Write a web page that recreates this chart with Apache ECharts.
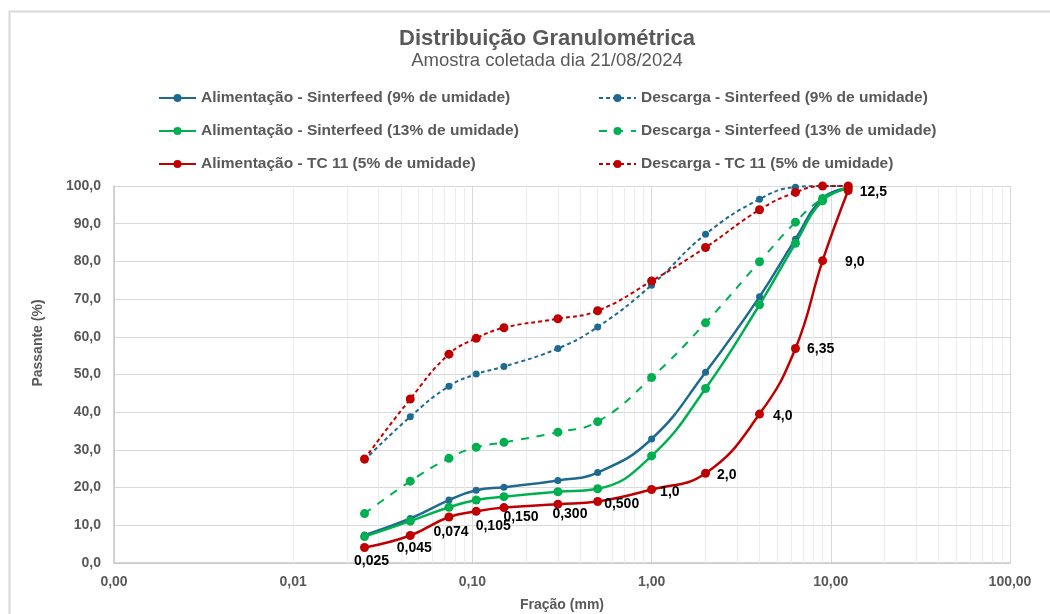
<!DOCTYPE html>
<html>
<head>
<meta charset="utf-8">
<script src="https://cdn.jsdelivr.net/npm/echarts@6/dist/echarts.min.js"></script>
<style>
  html, body { margin: 0; padding: 0; background: #ffffff; }
  #chart { width: 1050px; height: 614px; }
</style>
</head>
<body>
<div id="chart"></div>
<script>
// Aberturas das peneiras (mm) e os rótulos mostrados na curva TC 11
const aberturas = [0.025, 0.045, 0.074, 0.105, 0.150, 0.300, 0.500, 1.0, 2.0, 4.0, 6.35, 9.0, 12.5];
const rotulosAbertura = ['0,025', '0,045', '0,074', '0,105', '0,150', '0,300', '0,500', '1,0', '2,0', '4,0', '6,35', '9,0', '12,5'];

// Passante acumulado (%) por amostra
const alimSF9  = [7.4, 11.8, 16.7, 19.3, 20.1, 21.9, 24.0, 32.9, 50.6, 70.6, 85.9, 96.7, 99.5];
const alimSF13 = [7.0, 11.1, 14.8, 16.7, 17.6, 18.9, 19.7, 28.4, 46.3, 68.5, 84.8, 96.1, 99.4];
const alimTC11 = [4.1, 7.3, 12.2, 13.7, 14.7, 15.6, 16.3, 19.5, 23.8, 39.5, 56.9, 80.2, 98.8];
const descSF9  = [27.3, 38.8, 46.9, 50.1, 52.1, 56.9, 62.6, 73.7, 87.2, 96.5, 99.7, 100.0, 100.0];
const descSF13 = [13.1, 21.7, 27.8, 30.7, 32.0, 34.7, 37.5, 49.2, 63.7, 79.9, 90.4, 96.7, 99.6];
const descTC11 = [27.6, 43.5, 55.4, 59.6, 62.4, 64.8, 66.9, 74.8, 83.7, 93.7, 98.3, 100.0, 100.0];

const nomes = {
  aSF9: 'Alimentação - Sinterfeed (9% de umidade)',
  aSF13: 'Alimentação - Sinterfeed (13% de umidade)',
  aTC11: 'Alimentação - TC 11 (5% de umidade)',
  dSF9: 'Descarga - Sinterfeed (9% de umidade)',
  dSF13: 'Descarga - Sinterfeed (13% de umidade)',
  dTC11: 'Descarga - TC 11 (5% de umidade)'
};

const AZUL = '#1f6b8f', VERDE = '#00b050', VERMELHO = '#c00000';
const CINZA_TXT = '#595959';
const FONTE = '"Liberation Sans", Arial, sans-serif';

// posição dos rótulos de abertura em torno de cada ponto da curva TC 11
const posRotulos = [
  ['bottom', [7, -3]], ['bottom', [4, -4]], ['bottom', [2, -1]], ['bottom', [17, -2]],
  ['bottom', [17, -7]], ['bottom', [12, -7]], ['right', [-3, 3]], ['right', [-1, 3]],
  ['right', [2, 2]], ['right', [4, 2]], ['right', [2, 1]], ['right', [13, 1]], ['right', [2, 2]]
];

function pares(valores) {
  return aberturas.map((x, i) => [x, valores[i]]);
}

// linhas de grade secundárias (2..9 de cada década)
const gradeSecundaria = [];
for (let d = -3; d <= 1; d++) {
  for (let k = 2; k <= 9; k++) gradeSecundaria.push({ xAxis: k * Math.pow(10, d) });
}

function serie(nome, valores, cor, tracejado, larguraLinha, tamanhoMarca) {
  return {
    name: nome,
    type: 'line',
    smooth: 0.45,
    data: pares(valores),
    symbol: 'circle',
    symbolSize: tamanhoMarca,
    showSymbol: true,
    itemStyle: { color: cor },
    lineStyle: { color: cor, width: larguraLinha, type: tracejado },
    emphasis: { disabled: true },
    z: 3
  };
}

const serieTC11 = serie(nomes.aTC11, alimTC11, VERMELHO, 'solid', 2.5, 9);
serieTC11.data = aberturas.map((x, i) => ({
  value: [x, alimTC11[i]],
  label: { position: posRotulos[i][0], offset: posRotulos[i][1] }
}));
serieTC11.label = {
  show: true,
  formatter: p => rotulosAbertura[p.dataIndex],
  color: '#000000',
  fontFamily: FONTE,
  fontWeight: 'bold',
  fontSize: 14,
  distance: 5
};
serieTC11.z = 4;

const estiloLegenda = { color: CINZA_TXT, fontFamily: FONTE, fontWeight: 'bold', fontSize: 15.5, lineHeight: 16 };

const option = {
  animation: false,
  backgroundColor: '#ffffff',
  title: {
    text: 'Distribuição Granulométrica',
    subtext: 'Amostra coletada dia 21/08/2024',
    left: 542,
    top: 23,
    textAlign: 'center',
    itemGap: 1,
    textStyle: { color: CINZA_TXT, fontFamily: FONTE, fontWeight: 'bold', fontSize: 22 },
    subtextStyle: { color: CINZA_TXT, fontFamily: FONTE, fontSize: 18.5 }
  },
  legend: [
    {
      data: [nomes.aSF9, nomes.aSF13, nomes.aTC11],
      orient: 'vertical', left: 153, top: 85,
      itemWidth: 37, itemHeight: 10, itemGap: 17,
      textStyle: estiloLegenda,
      selectedMode: false
    },
    {
      data: [nomes.dSF9, nomes.dSF13, nomes.dTC11],
      orient: 'vertical', left: 593, top: 85,
      itemWidth: 37, itemHeight: 10, itemGap: 17,
      textStyle: estiloLegenda,
      selectedMode: false
    }
  ],
  grid: { left: 114, right: 40, top: 186, bottom: 51, containLabel: false, outerBoundsMode: 'none' },
  xAxis: {
    type: 'log',
    logBase: 10,
    min: 0.001,
    max: 100,
    name: 'Fração (mm)',
    nameLocation: 'middle',
    nameGap: 35,
    nameTextStyle: { color: CINZA_TXT, fontFamily: FONTE, fontWeight: 'bold', fontSize: 14 },
    axisLine: { show: true, lineStyle: { color: '#c8c8c8', width: 1.5 } },
    axisTick: { show: false },
    axisLabel: {
      color: CINZA_TXT, fontFamily: FONTE, fontWeight: 'bold', fontSize: 14, margin: 12,
      formatter: v => v.toFixed(2).replace('.', ',')
    },
    splitLine: { show: true, lineStyle: { color: '#d9d9d9', width: 1 } }
  },
  yAxis: {
    type: 'value',
    min: 0,
    max: 100,
    interval: 10,
    axisLine: { show: true, lineStyle: { color: '#c8c8c8', width: 1.5 } },
    axisTick: { show: false },
    axisLabel: {
      color: CINZA_TXT, fontFamily: FONTE, fontWeight: 'bold', fontSize: 14, margin: 13,
      formatter: v => v.toFixed(1).replace('.', ',')
    },
    splitLine: { show: true, lineStyle: { color: '#d9d9d9', width: 1 } }
  },
  graphic: [
    {
      type: 'rect',
      silent: true,
      shape: { x: 9.5, y: 11.5, width: 1100, height: 700 },
      style: { fill: 'none', stroke: '#d9d9d9', lineWidth: 2 }
    },
    {
      type: 'text',
      silent: true,
      x: 38, y: 343,
      rotation: Math.PI / 2,
      style: {
        text: 'Passante (%)',
        fill: CINZA_TXT,
        font: 'bold 14px ' + FONTE,
        align: 'center',
        verticalAlign: 'middle'
      }
    }
  ],
  series: [
    {
      name: 'grade',
      type: 'line',
      data: [],
      silent: true,
      z: 1,
      markLine: {
        silent: true,
        z: 1,
        symbol: 'none',
        animation: false,
        label: { show: false },
        lineStyle: { color: '#ececec', width: 1, type: 'solid' },
        emphasis: { disabled: true },
        data: gradeSecundaria
      }
    },
    serie(nomes.aSF9, alimSF9, AZUL, 'solid', 2.5, 7),
    serie(nomes.aSF13, alimSF13, VERDE, 'solid', 2.5, 9),
    serieTC11,
    serie(nomes.dSF9, descSF9, AZUL, [4, 3], 2, 7),
    serie(nomes.dSF13, descSF13, VERDE, [8, 8], 2, 9),
    serie(nomes.dTC11, descTC11, VERMELHO, [4, 3], 2, 9)
  ]
};

const chart = echarts.init(document.getElementById('chart'), null, { renderer: 'canvas' });
chart.setOption(option);
</script>
</body>
</html>
